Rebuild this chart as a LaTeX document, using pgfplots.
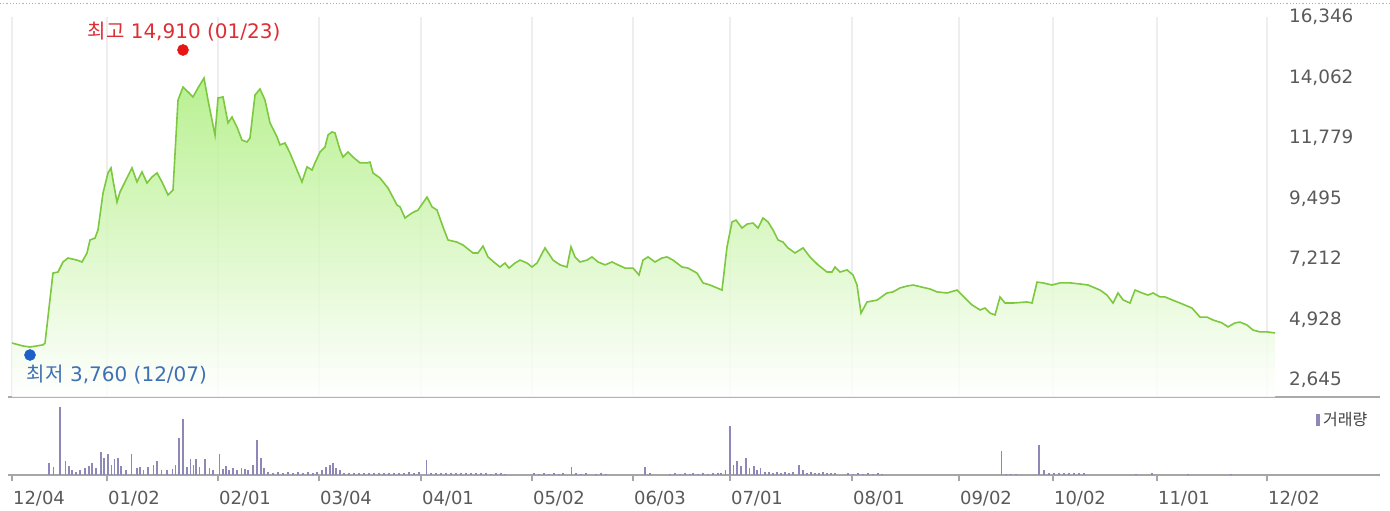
\documentclass[border=0pt]{standalone}
\usepackage{pgfplots}
\pgfplotsset{compat=1.18}
\usepackage{pgfplotstable}
\usepackage{fontspec}
\setmainfont{DejaVu Sans}
\newfontfamily\kr{Noto Sans CJK KR}
\definecolor{linec}{HTML}{7CC83E}
\definecolor{fillc}{HTML}{ADEE7E}
\definecolor{volc}{HTML}{8E88B8}
\definecolor{gridc}{HTML}{EEEEEE}
\definecolor{txt}{HTML}{5A5A5A}
\definecolor{sepc}{HTML}{AAAAAA}
\definecolor{hic}{HTML}{DD2E36}
\definecolor{hidot}{HTML}{E81515}
\definecolor{loc}{HTML}{3F70B5}
\definecolor{lodot}{HTML}{1D60C8}

\pgfplotstableread{
x v
12 4040
23 3930
30 3890
43 3970
45 4040
53 6680
58 6720
63 7100
68 7250
77 7170
82 7100
87 7440
90 7930
95 8000
98 8310
103 9700
108 10460
111 10650
113 10190
117 9360
120 9740
125 10120
132 10650
137 10120
142 10500
147 10080
152 10310
157 10460
162 10120
168 9630
173 9820
178 13210
183 13700
188 13520
193 13330
198 13670
204 14040
208 13210
215 11890
218 13290
223 13330
228 12350
232 12570
237 12190
242 11700
247 11630
250 11780
255 13400
260 13630
265 13210
270 12350
277 11820
280 11520
285 11590
290 11210
297 10570
302 10120
307 10690
312 10570
315 10840
320 11250
325 11440
328 11890
332 12010
335 11970
340 11330
343 11060
348 11250
353 11060
360 10840
367 10840
370 10870
373 10460
380 10270
388 9890
397 9250
400 9180
405 8760
412 8950
418 9060
427 9550
432 9180
437 9060
443 8420
448 7930
457 7850
463 7740
473 7440
478 7440
483 7700
488 7290
495 7060
500 6910
505 7060
509 6870
515 7060
520 7170
527 7060
532 6910
537 7060
545 7630
553 7170
560 6990
567 6910
571 7670
575 7290
580 7100
587 7170
592 7290
598 7100
605 6990
612 7100
618 6990
625 6870
633 6870
639 6610
643 7170
648 7290
655 7100
662 7250
667 7290
673 7170
682 6910
688 6870
697 6680
703 6310
710 6230
717 6120
722 6040
727 7670
732 8610
736 8680
742 8380
747 8530
753 8570
758 8380
763 8760
768 8610
773 8310
778 7930
783 7850
788 7630
795 7440
803 7630
810 7290
818 6990
827 6720
832 6720
835 6910
840 6720
847 6800
853 6610
857 6230
861 5170
867 5590
877 5660
887 5930
893 5970
900 6120
907 6190
913 6230
922 6150
930 6080
937 5970
947 5930
957 6040
965 5740
972 5480
980 5290
985 5360
990 5170
995 5100
1000 5780
1005 5550
1013 5550
1027 5590
1032 5550
1037 6340
1043 6310
1052 6230
1060 6310
1070 6310
1080 6270
1088 6230
1100 6040
1107 5850
1113 5550
1118 5930
1123 5670
1130 5550
1135 6040
1142 5930
1148 5850
1153 5930
1160 5780
1165 5780
1172 5670
1180 5550
1192 5360
1200 5020
1207 5020
1213 4910
1222 4800
1228 4650
1235 4800
1240 4830
1247 4720
1253 4530
1260 4460
1267 4460
1275 4420
}\price

\pgfplotstableread{
x h
49 35
53.5 23
59.7 195
65.5 40
68.7 25
72.2 15
76 10
80 15
85 20
89 27
92 33
96 20
101 67
104 50
108 60
111.5 30
114.6 45
117.7 50
121 25
126 15
131.5 60
137 20
140 23
143.6 15
148 23
153.4 30
157 40
161.4 15
167 13
172.5 17
175.6 30
179.2 107
182.8 160
187.2 23
190.4 45
193.5 30
196.2 45
199.3 23
205 45
209.5 20
212.7 15
219.3 60
223 17
226 25
229 15
233 20
237 15
241.6 20
245 17
248 15
253 30
257.2 100
261 50
264 20
268 9
273 7
278 8
283 6
288 8
293 7
298 9
303 6
308 8
313 7
317 9
322 15
326 23
330 30
333 35
336 20
340 15
344 6
349 5
354 6
359 5
364 6
369 5
374 6
379 7
384 6
389 5
394 6
399 7
404 6
409 8
414 7
419 10
426.6 43
431 6
436 5
441 5
446 6
451 5
456 5
461 6
466 5
471 5
476 6
481 5
486 5
491 4
496 5
501 5
505 4
534 5
539 4
544 5
549 4
554 5
559 4
563 5
571.5 23
576 5
581 4
586 5
596 4
601 5
606 4
645 23
650 5
670 4
675 5
680 4
685 5
690 4
693 5
698 4
703 5
708 4
713 5
718 6
721 5
725.5 15
730 140
733.6 30
737 40
741 25
746 50
749.4 20
754 25
757 15
760.6 20
765 10
769 8
773 7
777 8
781 7
785 9
789 7
793 8
799 30
803 15
807 7
811 8
815 6
819 7
823 8
827 6
831 7
835 6
848 5
853 4
858 5
863 4
868 5
873 4
878 5
882 4
1001.4 70
1006 4
1011 4
1016 4
1038.7 85
1044 15
1049 6
1054 7
1059 6
1064 6
1069 5
1074 6
1079 5
1084 5
1136 4
1152 5
1188 4
1231 4
}\volume

\begin{document}
\begin{tikzpicture}
\begin{axis}[
  name=price,
  at={(4pt,56.5pt)}, anchor=south west,
  width=686pt, height=190pt, scale only axis,
  xmin=8, xmax=1380, ymin=2003, ymax=16346,
  scaled y ticks=false, scaled x ticks=false,
  axis x line*=bottom, axis y line*=right,
  axis line style={-},
  x axis line style={draw=sepc, line width=1.3pt},
  y axis line style={draw=none},
  xtick={12,107,218,319,421,532,633,730,852,959,1053,1157,1267},
  xticklabels={},
  xmajorgrids, grid style={gridc, line width=0.6pt},
  major tick length=0pt,
  ytick={2645,4928,7212,9495,11779,14062,16346},
  yticklabels={{2,645},{4,928},{7,212},{9,495},{11,779},{14,062},{16,346}},
  yticklabel style={anchor=west, xshift=-49pt, text=txt, font=\fontsize{9.2}{10}\selectfont},
]
\addplot[draw=none, top color=fillc, bottom color=white, fill opacity=0.85] table[x=x,y=v]{\price} \closedcycle;
\addplot[linec, line width=0.8pt] table[x=x,y=v]{\price};
\addplot[only marks, mark=*, mark size=2.7pt, hidot] coordinates {(183,15101)};
\addplot[only marks, mark=*, mark size=2.7pt, lodot] coordinates {(30,3589)};
\node[text=hic, font=\fontsize{10}{11}\selectfont] at (axis cs:184,15780) {{\kr 최고} 14,910 (01/23)};
\node[text=loc, font=\fontsize{10}{11}\selectfont] at (axis cs:117,2834) {{\kr 최저} 3,760 (12/07)};
\end{axis}
\begin{axis}[
  at={(4pt,17.5pt)}, anchor=south west,
  width=686pt, height=37.5pt, scale only axis,
  xmin=8, xmax=1380, ymin=0, ymax=215,
  scaled y ticks=false, scaled x ticks=false,
  clip=false,
  axis x line*=bottom, axis y line*=left,
  axis line style={-},
  x axis line style={draw=gray!70, line width=0.7pt},
  y axis line style={draw=none},
  ytick=\empty,
  xtick={12,107,218,319,421,532,633,730,852,959,1053,1157,1267},
  xticklabels={12/04,01/02,02/01,03/04,04/01,05/02,06/03,07/01,08/01,09/02,10/02,11/01,12/02},
  tick align=outside, major tick length=3pt,
  xtick style={draw=gray!70, line width=0.6pt},
  xticklabel style={anchor=north west, xshift=-3pt, yshift=-1.5pt, text=txt, font=\fontsize{9}{10}\selectfont},
]
\addplot[ycomb, volc, line width=0.8pt, mark=none] table[x=x,y=h]{\volume};
\node[anchor=west, text=black!75, font=\fontsize{8}{9}\selectfont] at (axis cs:1309,158) {\textcolor{volc}{\rule{2pt}{6pt}}\hspace{1.5pt}{\kr 거래량}};
\end{axis}
\draw[gray!60, densely dotted, line width=0.6pt] (0pt,253.2pt) -- (695pt,253.2pt);
\pgfresetboundingbox
\path[use as bounding box] (0pt,0pt) rectangle (695pt,255pt);
\end{tikzpicture}
\end{document}
